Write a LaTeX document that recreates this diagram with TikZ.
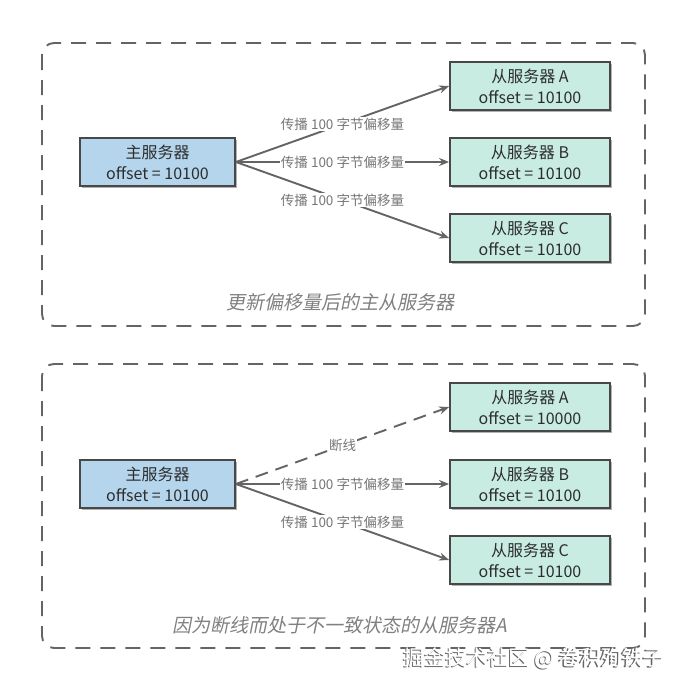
\documentclass[tikz,border=0pt]{standalone}
\usepackage{fontspec}
\setmainfont{Noto Sans CJK SC}
\newfontfamily\slantfont[FakeSlant=0.2]{Noto Sans CJK SC}
\usetikzlibrary{arrows.meta,shadows}

\definecolor{masterblue}{RGB}{180,213,236}
\definecolor{slavegreen}{RGB}{200,236,226}
\definecolor{edgegray}{RGB}{100,100,100}
\definecolor{labelgray}{RGB}{118,118,118}
\definecolor{boxline}{RGB}{72,72,72}
\definecolor{textdark}{RGB}{45,45,45}

\begin{document}
\begin{tikzpicture}[x=1pt, y=-1pt,
    server/.style={draw=boxline, line width=1.8pt, align=center, text=textdark,
        font=\fontsize{16}{21}\selectfont, minimum width=155pt, minimum height=48pt,
        drop shadow={shadow xshift=1.5pt, shadow yshift=-1.5pt, opacity=0.3, fill=black}},
    master/.style={server, fill=masterblue},
    slave/.style={server, fill=slavegreen, minimum width=160pt},
    arrow/.style={-{Stealth[length=10pt,width=8pt]}, draw=edgegray, line width=1.9pt},
    lbl/.style={fill=white, inner sep=1pt, text=labelgray, font=\fontsize{13.5}{15}\selectfont},
    frame/.style={draw=edgegray, line width=1.9pt, dash pattern=on 15pt off 10pt, rounded corners=12pt},
    caption/.style={text=black!50, font=\slantfont\fontsize{19}{22}\selectfont}
]
\useasboundingbox (0,0) rectangle (687,688);

% Marcos discontinuos
\draw[frame] (42,43) rectangle (645,326);
\draw[frame] (42,364) rectangle (645,648);

% Parte superior
\node[master] (master1) at (157.5,162) {主服务器\\offset = 10100};
\node[slave] (slaveA1) at (530,86) {从服务器 A\\offset = 10100};
\node[slave] (slaveB1) at (530,162) {从服务器 B\\offset = 10100};
\node[slave] (slaveC1) at (530,238) {从服务器 C\\offset = 10100};

\draw[arrow] (master1.east) -- node[lbl] {传播 100 字节偏移量} (slaveA1.west);
\draw[arrow] (master1.east) -- node[lbl] {传播 100 字节偏移量} (slaveB1.west);
\draw[arrow] (master1.east) -- node[lbl] {传播 100 字节偏移量} (slaveC1.west);

\node[caption] (cap1) at (340,302) {更新偏移量后的主从服务器};

% Parte inferior
\node[master] (master2) at (157.5,484) {主服务器\\offset = 10100};
\node[slave] (slaveA2) at (530,407) {从服务器 A\\offset = 10000};
\node[slave] (slaveB2) at (530,484) {从服务器 B\\offset = 10100};
\node[slave] (slaveC2) at (530,560) {从服务器 C\\offset = 10100};

\draw[arrow, dash pattern=on 13pt off 8pt] (master2.east) -- node[lbl] {断线} (slaveA2.west);
\draw[arrow] (master2.east) -- node[lbl] {传播 100 字节偏移量} (slaveB2.west);
\draw[arrow] (master2.east) -- node[lbl] {传播 100 字节偏移量} (slaveC2.west);

\node[caption] (cap2) at (340,625) {因为断线而处于不一致状态的从服务器A};

% Marca de agua
\node[text=black!60, font=\fontsize{21}{23}\selectfont] (wmshadow) at (532.5,659.5) {掘金技术社区 @ 卷积殉铁子};
\node[text=white, font=\fontsize{21}{23}\selectfont] (wm) at (534,658) {掘金技术社区 @ 卷积殉铁子};
\end{tikzpicture}
\end{document}
